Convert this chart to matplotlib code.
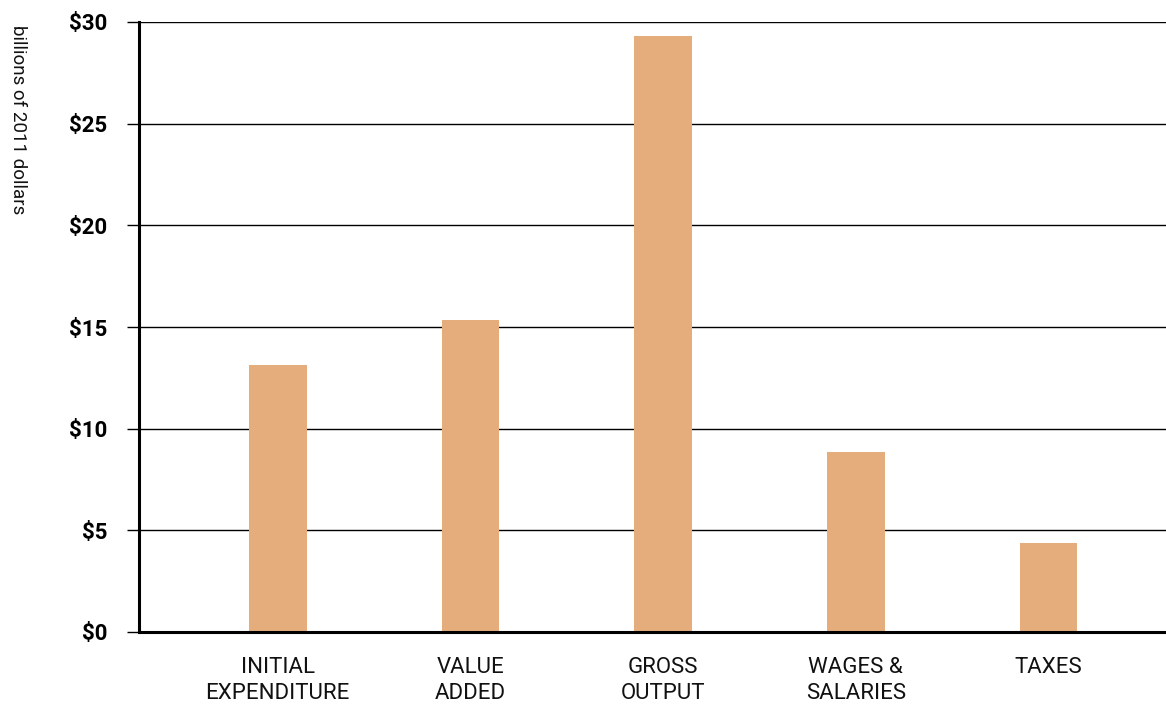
import matplotlib
matplotlib.use("Agg")
import matplotlib.pyplot as plt
from matplotlib.ticker import FuncFormatter

categories = ["INITIAL\nEXPENDITURE", "VALUE\nADDED", "GROSS\nOUTPUT", "WAGES &\nSALARIES", "TAXES"]
values = [13.15, 15.35, 29.3, 8.87, 4.4]
yticks = [0, 5, 10, 15, 20, 25, 30]

plt.rcParams['font.family'] = ['Roboto', 'DejaVu Sans']

fig = plt.figure(figsize=(11.66, 7.04), dpi=100)
ax = fig.add_axes([139/1166, (704-632)/704, 1 - 139/1166, (632-22)/704])

x = list(range(len(categories)))
ax.bar(x, values, width=0.3, color="#E6AD7C", zorder=3)

ax.set_ylim(0, 30)
ax.set_xlim(-0.72, 4.61)
ax.set_yticks(yticks)
ax.yaxis.set_major_formatter(FuncFormatter(lambda v, p: f"${int(v)}"))
ax.grid(axis='y', color='black', linewidth=1.0, zorder=0)
ax.tick_params(axis='y', length=9, width=1.0, color='black', pad=14, labelsize=16)
for lab in ax.get_yticklabels():
    lab.set_fontweight('bold')
ax.set_xticks(x)
ax.set_xticklabels(categories, fontsize=16, linespacing=1.3, color='#111111')
ax.tick_params(axis='x', length=0, pad=18)

for s in ['top', 'right']:
    ax.spines[s].set_visible(False)
for s in ['left', 'bottom']:
    ax.spines[s].set_linewidth(2.2)
    ax.spines[s].set_zorder(4)

fig.text(18/1166, 1 - 120/704, "billions of 2011 dollars", rotation=-90,
         ha='center', va='center', fontsize=13.5, color='#111111')

fig.savefig("out.png", dpi=100)
